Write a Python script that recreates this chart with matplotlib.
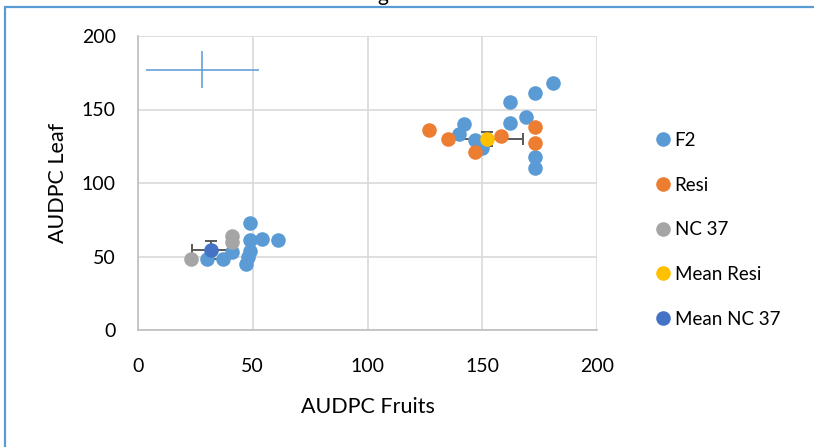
import matplotlib
matplotlib.use("Agg")
import matplotlib.pyplot as plt
from matplotlib.patches import Rectangle
from matplotlib.lines import Line2D

plt.rcParams['font.family'] = ['Lato', 'DejaVu Sans']

# F2 population
f2_fruits = [30, 37, 41, 47, 48, 49, 49, 49, 54, 61,
             140, 142, 147, 150, 162, 162, 169, 173, 181, 173, 173]
f2_leaf = [48, 48, 53, 45, 50, 54, 61, 73, 62, 61,
           133, 140, 129, 124, 155, 141, 145, 161, 168, 118, 110]

# Resistant parent
resi_fruits = [127, 135, 147, 158, 173, 173]
resi_leaf = [136, 130, 121, 132, 138, 127]

# NC 37 parent
nc_fruits = [23, 41, 41]
nc_leaf = [48, 64, 60]

# Means with standard deviations
mean_resi = (152, 130)
mean_resi_err = (15.8, 5)
mean_nc = (32, 54.5)
mean_nc_err = (8.5, 6)

# Spread of the F2 population
f2_center = (28, 177)
f2_err = (24.7, 12.5)

c_f2 = '#5B9BD5'
c_resi = '#ED7D31'
c_nc = '#A5A5A5'
c_mresi = '#FFC000'
c_mnc = '#4472C4'

fig = plt.figure(figsize=(8.14, 4.47), dpi=100)
ax = fig.add_axes([138 / 814, 1 - 330 / 447, (597 - 138) / 814, (330 - 36) / 447])

ms = 110
ax.errorbar([f2_center[0]], [f2_center[1]], xerr=[f2_err[0]], yerr=[f2_err[1]],
            fmt='none', ecolor=c_f2, elinewidth=1.3, capsize=0, alpha=0.85, zorder=2)
ax.errorbar([mean_resi[0]], [mean_resi[1]], xerr=[mean_resi_err[0]], yerr=[mean_resi_err[1]],
            fmt='none', ecolor='#595959', elinewidth=1.4, capsize=4.5, capthick=1.4, zorder=2)
ax.errorbar([mean_nc[0]], [mean_nc[1]], xerr=[mean_nc_err[0]], yerr=[mean_nc_err[1]],
            fmt='none', ecolor='#595959', elinewidth=1.4, capsize=4.5, capthick=1.4, zorder=2)

ax.scatter(f2_fruits, f2_leaf, s=ms, color=c_f2, linewidths=0, zorder=3)
ax.scatter(resi_fruits, resi_leaf, s=ms, color=c_resi, linewidths=0, zorder=4)
ax.scatter(nc_fruits, nc_leaf, s=ms, color=c_nc, linewidths=0, zorder=4)
ax.scatter([mean_resi[0]], [mean_resi[1]], s=ms, color=c_mresi, linewidths=0, zorder=5)
ax.scatter([mean_nc[0]], [mean_nc[1]], s=ms, color=c_mnc, linewidths=0, zorder=5)

ax.set_xlim(0, 200)
ax.set_ylim(0, 200)
ax.set_xticks([0, 50, 100, 150, 200])
ax.set_yticks([0, 50, 100, 150, 200])
ax.grid(True, color='#D9D9D9', linewidth=1.2)
ax.set_axisbelow(True)
for side in ['top', 'right']:
    ax.spines[side].set_visible(False)
for side in ['left', 'bottom']:
    ax.spines[side].set_color('#BFBFBF')
    ax.spines[side].set_linewidth(1.2)
ax.tick_params(length=0, labelsize=14, colors='#000000')
ax.tick_params(axis='x', pad=20)
ax.tick_params(axis='y', pad=16)
ax.set_xlabel('AUDPC Fruits', fontsize=15.5, labelpad=16)
ax.set_ylabel('AUDPC Leaf', fontsize=15.5, labelpad=10)

labels = ['F2', 'Resi', 'NC 37', 'Mean Resi', 'Mean NC 37']
colors = [c_f2, c_resi, c_nc, c_mresi, c_mnc]
handles = [Line2D([], [], linestyle='none', marker='o', markersize=10.5,
                  markerfacecolor=c, markeredgewidth=0) for c in colors]
fig.legend(handles, labels, loc='upper left', bbox_to_anchor=(654 / 814, 1 - 132 / 447),
           frameon=False, fontsize=13.5, labelspacing=1.475, handletextpad=0.1,
           handlelength=1.0, borderpad=0, borderaxespad=0)

# outer frame of the chart area
fig.patches.append(Rectangle((5 / 814, -0.1), 1.2, 1 - 7 / 447 + 0.1,
                             transform=fig.transFigure, fill=False,
                             edgecolor=c_f2, linewidth=1.6))
fig.text(383 / 814, 1 - 0.6 / 447, 'g', ha='center', va='baseline', fontsize=15)

fig.savefig('out.png', dpi=100)
